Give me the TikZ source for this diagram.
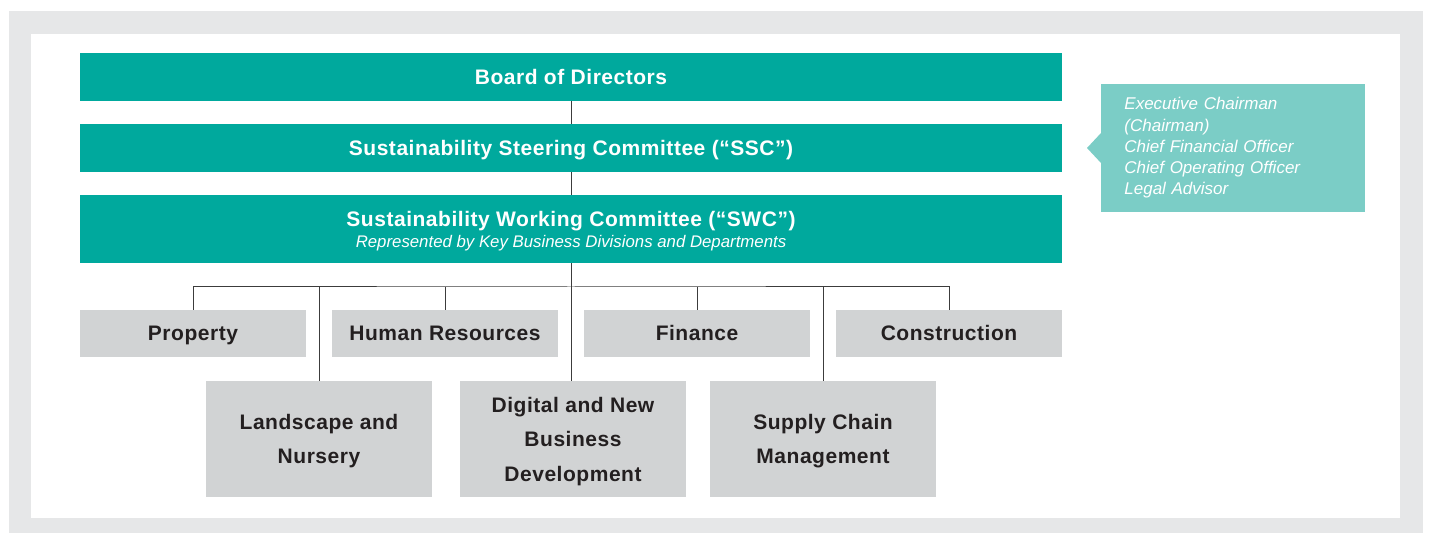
\documentclass[tikz,border=0pt]{standalone}
\usepackage{fontspec}
\setmainfont{Liberation Sans}[BoldFeatures={LetterSpace=2.5}]
\usepackage{tikz}
\definecolor{sgteal}{RGB}{0,169,157}
\definecolor{sglight}{RGB}{123,205,198}
\definecolor{sggray}{RGB}{209,211,212}
\definecolor{sgframe}{RGB}{230,231,232}
\definecolor{sgline}{RGB}{60,60,60}
\definecolor{sgtext}{RGB}{35,31,32}
\tikzset{teal box/.style={fill=sgteal, text=white, minimum width=491pt,
    inner sep=0pt, align=center, text depth=0pt, font=\bfseries\fontsize{10.5}{12}\selectfont}}
\tikzset{unit box/.style={fill=sggray, text=sgtext, minimum width=113pt,
    inner sep=0pt, align=center, text depth=0pt, font=\bfseries\fontsize{10.5}{17.3}\selectfont}}
\tikzset{one line/.style={text height=7.5pt}}
\tikzset{link/.style={draw=sgline, line width=0.5pt}}

\begin{document}
\begin{tikzpicture}[x=0.5pt, y=-0.5pt]
      \useasboundingbox (0,0) rectangle (1430,533);
      \fill[sgframe] (9,11) rectangle (1423,533);
      \fill[white] (31,34) rectangle (1400,518);

      \node [teal box, one line, minimum height=24pt] (bod) at (571,77) {Board of Directors};
      \node [teal box, one line, minimum height=24pt] (ssc) at (571,148)
        {Sustainability Steering Committee (“SSC”)};
      \node [teal box, minimum height=34pt] (swc) at (571,229)
        {Sustainability Working Committee (“SWC”)\\[-1.5pt]
         {\mdseries\itshape\fontsize{8.4}{9}\selectfont Represented by Key Business Divisions and Departments}};

      \node [unit box, one line, minimum height=23.5pt] (prop) at (193,333.5) {Property};
      \node [unit box, one line, minimum height=23.5pt] (hr) at (445,333.5) {Human Resources};
      \node [unit box, one line, minimum height=23.5pt] (fin) at (697,333.5) {Finance};
      \node [unit box, one line, minimum height=23.5pt] (cons) at (949,333.5) {Construction};
      \node [unit box, minimum height=58pt] (land) at (319,439) {Landscape and\\Nursery};
      \node [unit box, minimum height=58pt] (dig) at (573,439) {Digital and New\\Business\\Development};
      \node [unit box, minimum height=58pt] (scm) at (823,439) {Supply Chain\\Management};

      % SSC members
      \node [fill=sglight, text=white, anchor=west, minimum width=132pt, minimum height=64pt,
        inner xsep=11.5pt, text width=109pt, align=left,
        font=\itshape\fontsize{8.5}{10.6}\selectfont] (memb) at (1101,148)
        {Executive Chairman\\(Chairman)\\Chief Financial Officer\\Chief Operating Officer\\Legal Advisor};
      \fill[sglight] (memb.west) ++(0,-15) -- ++(-14,15) -- ++(14,15) -- cycle;

      \coordinate (bus) at (571,287);
      \draw[link] (bod) -- (ssc);
      \draw[link] (ssc) -- (swc);
      \draw[link] (swc) -- (swc.south |- dig.north);
      \draw[link] (prop.north) |- (bus) -| (cons.north);
      \foreach \n in {hr,fin,land,scm}
        \draw[link] (\n.north) -- (\n.north |- bus);
    \end{tikzpicture}
\end{document}
